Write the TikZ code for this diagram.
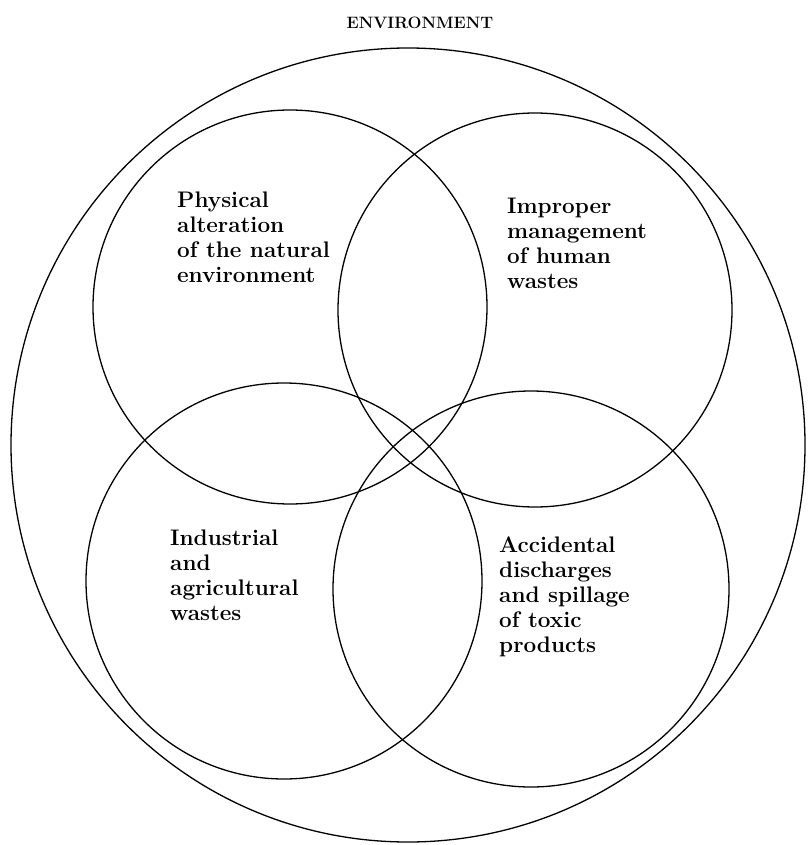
\documentclass[tikz,border=0pt]{standalone}
\usetikzlibrary{positioning}
\begin{document}
\begin{tikzpicture}[x=1pt,y=-1pt,
  ring/.style={circle,draw=black,line width=1.3pt,inner sep=0pt,minimum size=#1},
  lbl/.style={align=left,inner sep=0pt,anchor=north west,font=\fontsize{22.5}{25}\selectfont\bfseries},
  ttl/.style={inner sep=0pt,font=\fontsize{16.5}{18}\selectfont\bfseries}]
\useasboundingbox (0,0) rectangle (807,845);
\node[ring=794pt] (env) at (408,445) {};
\node[ring=394pt] (phys) at (290,307) {};
\node[ring=394pt] (impr) at (535,310) {};
\node[ring=396pt] (ind) at (284,581) {};
\node[ring=396pt] (acc) at (531,589) {};
\node[ttl] (title) at (420,23) {ENVIRONMENT};
\node[lbl] (tphys) at (177,192) {Physical\\alteration\\of the natural\\environment};
\node[lbl] (timpr) at (507,198) {Improper\\management\\of human\\wastes};
\node[lbl] (tind) at (170,530) {Industrial\\and\\agricultural\\wastes};
\node[lbl] (tacc) at (499,537) {Accidental\\discharges\\and spillage\\of toxic\\products};
\end{tikzpicture}
\end{document}
